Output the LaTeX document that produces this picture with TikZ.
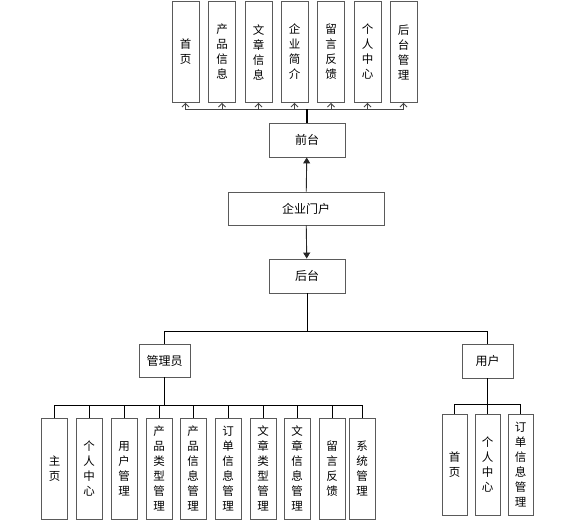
\documentclass[tikz,border=0pt]{standalone}
\usepackage{fontspec}
\usepackage{tikz}
\usetikzlibrary{arrows.meta, positioning}
\newfontfamily\cjk{Noto Sans CJK SC}
\definecolor{boxgray}{RGB}{90,90,90}
\definecolor{linegray}{RGB}{70,70,70}
\tikzset{
    hbox/.style={rectangle, draw=boxgray, fill=white, line width=0.9pt,
                 text centered, align=center, minimum height=34pt,
                 minimum width=76pt, inner sep=0pt,
                 font=\cjk\fontsize{12}{14}\selectfont},
    vbox/.style={rectangle, draw=boxgray, fill=white, line width=0.9pt,
                 text centered, align=center, minimum height=101pt,
                 minimum width=26pt, inner sep=0pt,
                 font=\cjk\fontsize{11.5}{15}\selectfont},
    link/.style={draw=black, line width=0.8pt},
    trunk/.style={draw=black, line width=1.6pt},
    uparrow/.style={-{Straight Barb[length=3.5pt, width=7pt]}, draw=linegray, line width=0.8pt},
    arrow/.style={-{Triangle[length=6pt, width=7pt]}, draw=black!85, line width=0.9pt}
}

\begin{document}
\begin{tikzpicture}[x=1pt, y=-1pt]
    \useasboundingbox (0,0) rectangle (566,526);

    % front end
    \node[vbox, minimum width=27pt] (fhome) at (185.5,52) {首\\页};
    \node[vbox, minimum width=27pt] (fprod) at (222,52) {产\\品\\信\\息};
    \node[vbox, minimum width=27pt] (fart) at (258.5,52) {文\\章\\信\\息};
    \node[vbox, minimum width=27pt] (fintro) at (294.5,52) {企\\业\\简\\介};
    \node[vbox, minimum width=27pt] (fmsg) at (331,52) {留\\言\\反\\馈};
    \node[vbox, minimum width=27pt] (fuser) at (367.5,52) {个\\人\\中\\心};
    \node[vbox, minimum width=27pt] (fadmin) at (403.5,52) {后\\台\\管\\理};

    \node[hbox] (front) at (307,140) {前台};
    \node[hbox, minimum width=156pt, minimum height=33pt] (portal) at (306,208.5) {企业门户};
    \node[hbox] (back) at (307,276) {后台};

    \node[hbox, minimum width=51pt, minimum height=33pt] (admin) at (164.5,360.5) {管理员};
    \node[hbox, minimum width=51pt] (user) at (487.5,361) {用户};

    % admin leaves
    \node[vbox] (ahome) at (54.5,468.5) {主\\页};
    \node[vbox] (aself) at (89,468.5) {个\\人\\中\\心};
    \node[vbox] (auser) at (124,468.5) {用\\户\\管\\理};
    \node[vbox] (aptype) at (159,468.5) {产\\品\\类\\型\\管\\理};
    \node[vbox] (aprod) at (193,468.5) {产\\品\\信\\息\\管\\理};
    \node[vbox] (aorder) at (228,468.5) {订\\单\\信\\息\\管\\理};
    \node[vbox] (aatype) at (263,468.5) {文\\章\\类\\型\\管\\理};
    \node[vbox] (aart) at (297,468.5) {文\\章\\信\\息\\管\\理};
    \node[vbox] (amsg) at (332,468.5) {留\\言\\反\\馈};
    \node[vbox] (asys) at (362,468.5) {系\\统\\管\\理};

    % user leaves
    \node[vbox, minimum width=25pt] (uhome) at (454.5,464.5) {首\\页};
    \node[vbox, minimum width=25pt] (uself) at (487.5,464.5) {个\\人\\中\\心};
    \node[vbox, minimum width=25pt] (uorder) at (520.5,464.5) {订\\单\\信\\息\\管\\理};

    \coordinate (topbus) at (0,109);
    \coordinate (midbus) at (0,331);
    \coordinate (abus) at (0,405);
    \coordinate (ubus) at (0,404);

    \draw[arrow] (portal) -- (front);
    \draw[arrow] (portal) -- (back);

    \draw[uparrow] (front.north |- topbus) -| (fhome.south);
    \draw[uparrow] (front.north |- topbus) -| (fprod.south);
    \draw[uparrow] (front.north |- topbus) -| (fart.south);
    \draw[uparrow] (front.north |- topbus) -| (fintro.south);
    \draw[uparrow] (front.north |- topbus) -| (fmsg.south);
    \draw[uparrow] (front.north |- topbus) -| (fuser.south);
    \draw[uparrow] (front.north |- topbus) -| (fadmin.south);
    \draw[trunk] (front.north) -- (front.north |- topbus);

    \draw[link] (back.south) |- (admin.north |- midbus) -- (admin.north);
    \draw[link] (back.south) |- (user.north |- midbus) -- (user.north);

    \draw[link] (admin.south) |- (ahome.north |- abus) -- (ahome.north);
    \draw[link] (admin.south) |- (aself.north |- abus) -- (aself.north);
    \draw[link] (admin.south) |- (auser.north |- abus) -- (auser.north);
    \draw[link] (admin.south) |- (aptype.north |- abus) -- (aptype.north);
    \draw[link] (admin.south) |- (aprod.north |- abus) -- (aprod.north);
    \draw[link] (admin.south) |- (aorder.north |- abus) -- (aorder.north);
    \draw[link] (admin.south) |- (aatype.north |- abus) -- (aatype.north);
    \draw[link] (admin.south) |- (aart.north |- abus) -- (aart.north);
    \draw[link] (admin.south) |- (amsg.north |- abus) -- (amsg.north);
    \draw[link] (admin.south) |- (asys.north |- abus) -- (asys.north);

    \draw[link] (user.south) |- (uhome.north |- ubus) -- (uhome.north);
    \draw[link] (user.south) -- (uself.north);
    \draw[link] (user.south) |- (uorder.north |- ubus) -- (uorder.north);
\end{tikzpicture}
\end{document}
